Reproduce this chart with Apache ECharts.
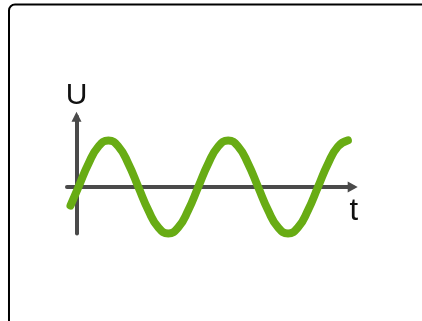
<!DOCTYPE html>
<html>
<head>
<meta charset="utf-8">
<script src="https://cdn.jsdelivr.net/npm/echarts@6/dist/echarts.min.js"></script>
<style>
  html, body { margin: 0; padding: 0; background: #fff; }
  #chart { width: 422px; height: 321px; }
</style>
</head>
<body>
<div id="chart"></div>
<script>
// time samples (1 unit = 1/12 of a period) and voltage
const tValues = [-0.6, 0.2, 1.2, 2.2, 3.2, 4.2, 5.2, 6.2, 7.2, 8.2, 9.2, 10.2, 11.2, 12.2, 13.2,
  14.2, 15.2, 16.2, 17.2, 18.2, 19.2, 20.2, 21.2, 22.2, 23.2, 24.2, 25.2, 26.2, 27.2];
const uValues = [-0.4, 0, 0.5, 0.87, 1, 0.87, 0.5, 0, -0.5, -0.87, -1, -0.87, -0.5, 0, 0.5,
  0.87, 1, 0.87, 0.5, 0, -0.5, -0.87, -1, -0.87, -0.5, 0, 0.5, 0.87, 1];
const axisNames = ['t', 'U'];

const axisColor = '#4a4a4a';
const waveColor = '#68ac14';
const font = "'Liberation Sans', Arial, sans-serif";

const chart = echarts.init(document.getElementById('chart'));

chart.setOption({
    animation: false,
    backgroundColor: '#fff',
    graphic: [{
        type: 'rect',
        shape: { x: 9, y: 4.5, width: 600, height: 600, r: 6 },
        style: { fill: 'none', stroke: '#000', lineWidth: 2 },
        silent: true
    }],
    grid: { left: 67, top: 116.7, width: 285.7, height: 116.8 },
    xAxis: {
        type: 'value',
        min: -0.95,
        max: 27.68,
        name: axisNames[0],
        nameLocation: 'end',
        nameGap: 1,
        nameTextStyle: { color: '#111', fontFamily: font, fontSize: 31, align: 'center', verticalAlign: 'top', lineHeight: 48 },
        axisLine: { onZero: true, symbol: ['none', 'triangle'], symbolSize: [11, 10], lineStyle: { color: axisColor, width: 4 } },
        axisTick: { show: false },
        axisLabel: { show: false },
        splitLine: { show: false }
    },
    yAxis: {
        type: 'value',
        min: -1,
        max: 1.51,
        name: axisNames[1],
        nameLocation: 'end',
        nameGap: 6,
        nameTextStyle: { color: '#111', fontFamily: font, fontSize: 30, align: 'center' },
        axisLine: { onZero: true, symbol: ['none', 'triangle'], symbolSize: [10, 10], lineStyle: { color: axisColor, width: 4 } },
        axisTick: { show: false },
        axisLabel: { show: false },
        splitLine: { show: false }
    },
    series: [{
        type: 'line',
        data: tValues.map((t, i) => [t, uValues[i]]),
        smooth: 0.5,
        clip: false,
        showSymbol: false,
        lineStyle: { color: waveColor, width: 8, cap: 'round', join: 'round' },
        z: 1
    }]
});
</script>
</body>
</html>
